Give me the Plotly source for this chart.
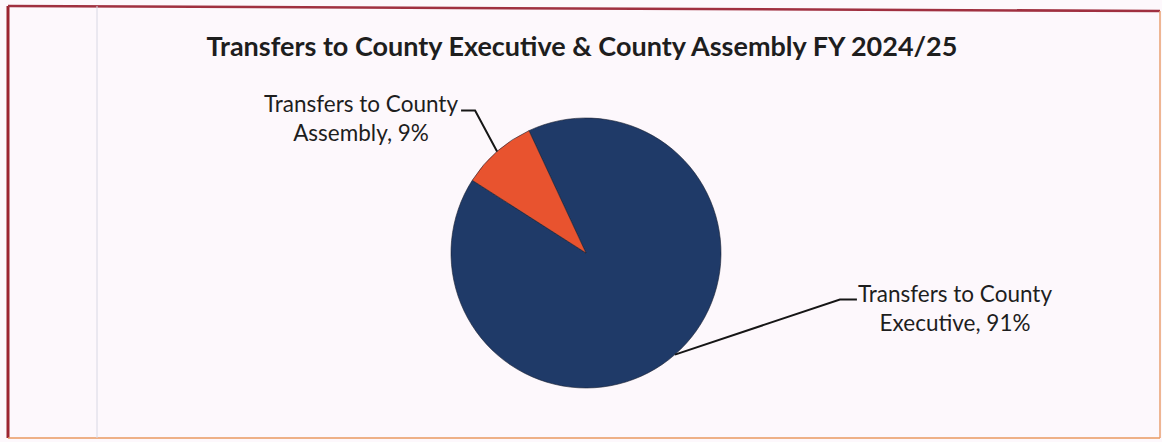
import math
import plotly.graph_objects as go

# ---- data ----
categories = ["Transfers to County Executive", "Transfers to County Assembly"]
label_lines = ["Transfers to County<br>Executive, 91%", "Transfers to County<br>Assembly, 9%"]
shares = [91, 9]
colors = ["#1f3a68", "#e8532f"]
title_text = "Transfers to County Executive &amp; County Assembly FY 2024/25"

W, H = 1162, 442
FONT = "Lato, 'Open Sans', sans-serif"
TEXT_COLOR = "#1e1e1e"

# pie geometry (pixels)
cx_px, cy_px, r_px = 586, 253, 135
rotation = -25

fig = go.Figure()
fig.add_trace(go.Pie(
    labels=categories,
    values=shares,
    sort=False,
    direction="clockwise",
    rotation=rotation,
    marker=dict(colors=colors, line=dict(color="#1a2030", width=0.6)),
    textinfo="none",
    hoverinfo="label+percent",
    showlegend=False,
    domain=dict(x=[(cx_px - r_px) / W, (cx_px + r_px) / W],
                y=[1 - (cy_px + r_px) / H, 1 - (cy_px - r_px) / H]),
))

def px(x, y):
    return x / W, 1 - y / H

# label layout: (elbow offset from tip, hook length, text centre in px)
label_layout = [
    dict(elbow=(165, -55), hook=17, text=(955, 308)),
    dict(elbow=(-22, -41), hook=-14, text=(361, 118)),
]

total = sum(shares)
start = rotation
annotations = []
shapes = []
for i, v in enumerate(shares):
    span = 360 * v / total
    mid = math.radians(start + span / 2)
    start += span
    tip = (cx_px + r_px * math.sin(mid), cy_px - r_px * math.cos(mid))
    lay = label_layout[i]
    elbow = (tip[0] + lay["elbow"][0], tip[1] + lay["elbow"][1])
    end = (elbow[0] + lay["hook"], elbow[1])
    p0, p1, p2 = px(*tip), px(*elbow), px(*end)
    shapes.append(dict(
        type="path", xref="paper", yref="paper",
        path=f"M {p0[0]},{p0[1]} L {p1[0]},{p1[1]} L {p2[0]},{p2[1]}",
        line=dict(color="#161616", width=2),
    ))
    tx, ty = px(*lay["text"])
    annotations.append(dict(
        x=tx, y=ty, xref="paper", yref="paper", xanchor="center", yanchor="middle",
        text=label_lines[i], showarrow=False,
        font=dict(family=FONT, size=22.5, color=TEXT_COLOR), align="center",
    ))

shapes += [
    # border lines of the scanned frame
    dict(type="line", xref="paper", yref="paper", x0=8 / W, x1=8 / W, y0=1 - 438 / H, y1=1 - 6 / H,
         line=dict(color="#9c2430", width=3)),
    dict(type="line", xref="paper", yref="paper", x0=8 / W, x1=1160 / W, y0=1 - 6 / H, y1=1 - 11 / H,
         line=dict(color="#a03040", width=2.5)),
    dict(type="line", xref="paper", yref="paper", x0=1160 / W, x1=1160 / W, y0=1 - 11 / H, y1=1 - 438 / H,
         line=dict(color="#e8a070", width=1.5)),
    dict(type="line", xref="paper", yref="paper", x0=8 / W, x1=1160 / W, y0=1 - 438 / H, y1=1 - 438 / H,
         line=dict(color="#e89a60", width=1.5)),
    dict(type="line", xref="paper", yref="paper", x0=97 / W, x1=97 / W, y0=1 - 438 / H, y1=1 - 6 / H,
         line=dict(color="#d8d8e4", width=1)),
]

fig.update_layout(
    width=W, height=H,
    margin=dict(l=0, r=0, t=0, b=0),
    paper_bgcolor="#fdf8fc",
    plot_bgcolor="#fdf8fc",
    title=dict(text="<b>" + title_text + "</b>", x=582 / W, xanchor="center",
               y=1 - 47 / H, yanchor="middle",
               font=dict(family=FONT, size=27, color=TEXT_COLOR)),
    annotations=annotations,
    shapes=shapes,
)

fig.write_html("out.html")
